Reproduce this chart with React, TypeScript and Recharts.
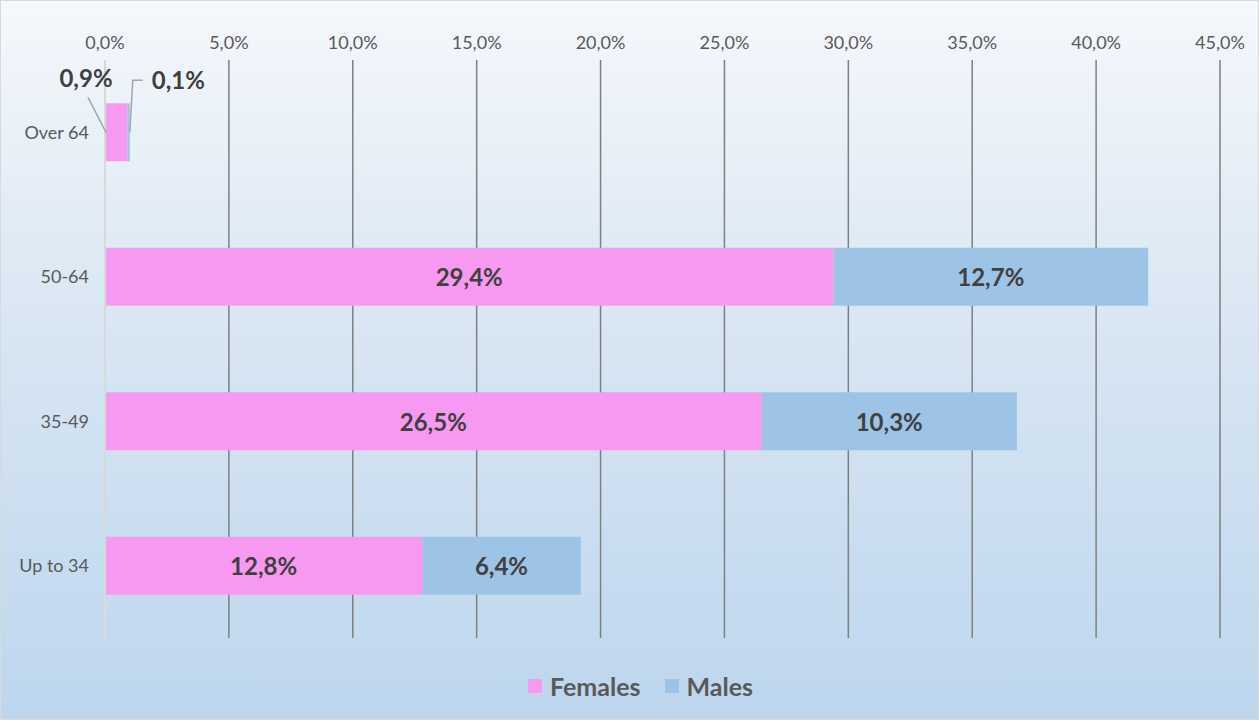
import React from 'react';
import { BarChart, Bar, XAxis, YAxis, CartesianGrid, LabelList } from 'recharts';

const ageGroups = ['Over 64', '50-64', '35-49', 'Up to 34'];
const females = [0.9, 29.4, 26.5, 12.8];
const males = [0.1, 12.7, 10.3, 6.4];
const xTicks = [0, 5, 10, 15, 20, 25, 30, 35, 40, 45];

const FEMALE = '#f799f0';
const MALE = '#9dc3e6';
const TEXT = '#595959';
const LABEL = '#404040';
const FONT = 'Lato, "Open Sans", sans-serif';

const data = ageGroups.map((group, i) => ({
  group,
  females: females[i],
  males: males[i],
}));

const fmt = (v: number) => v.toFixed(1).replace('.', ',') + '%';

// labels inside the bars; the tiny "Over 64" bar gets callouts instead
function insideLabel(side: 'f' | 'm') {
  return (props: any) => {
    const { x, y, width, height, value, index } = props;
    const text = fmt(Number(value));
    if (index === 0) {
      if (side === 'f') {
        return (
          <g>
            <polyline
              points={`${x + 1},${y + height / 2} ${x - 17},${y - 6}`}
              fill="none"
              stroke="#a6a6a6"
              strokeWidth={1.5}
            />
            <text x={x - 19} y={y - 16} textAnchor="middle" fill={LABEL} fontSize={24} fontWeight={700} fontFamily={FONT}>
              {text}
            </text>
          </g>
        );
      }
      const ex = x + width;
      return (
        <g>
          <polyline
            points={`${ex},${y + height / 2} ${ex + 3},${y - 23} ${ex + 13},${y - 23}`}
            fill="none"
            stroke="#a6a6a6"
            strokeWidth={1.5}
          />
          <text x={ex + 22} y={y - 14} fill={LABEL} fontSize={24} fontWeight={700} fontFamily={FONT}>
            {text}
          </text>
        </g>
      );
    }
    return (
      <text
        x={x + width / 2}
        y={y + height / 2}
        textAnchor="middle"
        dominantBaseline="central"
        fill={LABEL}
        fontSize={24}
        fontWeight={700}
        fontFamily={FONT}
      >
        {text}
      </text>
    );
  };
}

export default function App() {
  return (
    <div
      style={{
        position: 'absolute',
        left: 0,
        top: 0,
        width: 1257,
        height: 718,
        border: '1px solid #d9d9d9',
        background: 'linear-gradient(180deg, #f5f8fc 0%, #d9e6f3 45%, #bdd6ee 100%)',
        fontFamily: FONT,
      }}
    >
      <BarChart
        width={1257}
        height={718}
        data={data}
        layout="vertical"
        barCategoryGap="30%"
        margin={{ top: 29, right: 38, bottom: 81, left: 0 }}
      >
        <CartesianGrid horizontal={false} stroke="#7f7f7f" strokeWidth={1.5} />
        <XAxis
          type="number"
          orientation="top"
          domain={[0, 45]}
          ticks={xTicks}
          tickFormatter={fmt}
          axisLine={false}
          tickLine={false}
          tick={{ fill: TEXT, fontSize: 18, fontFamily: FONT, dy: -3 }}
          height={30}
        />
        <YAxis
          type="category"
          dataKey="group"
          width={104}
          axisLine={{ stroke: '#d9d9d9', strokeWidth: 2 }}
          tickLine={false}
          tickMargin={10}
          tick={{ fill: TEXT, fontSize: 18, fontFamily: FONT }}
        />
        <Bar dataKey="females" stackId="a" fill={FEMALE} isAnimationActive={false}>
          <LabelList dataKey="females" content={insideLabel('f')} />
        </Bar>
        <Bar dataKey="males" stackId="a" fill={MALE} isAnimationActive={false}>
          <LabelList dataKey="males" content={insideLabel('m')} />
        </Bar>
      </BarChart>
      <div
        style={{
          position: 'absolute',
          left: 11,
          width: 1257,
          top: 670,
          display: 'flex',
          justifyContent: 'center',
          alignItems: 'center',
          gap: 24,
          color: TEXT,
          fontSize: 25,
          fontWeight: 700,
        }}
      >
        {[
          { name: 'Females', color: FEMALE },
          { name: 'Males', color: MALE },
        ].map(item => (
          <div key={item.name} style={{ display: 'flex', alignItems: 'center', gap: 8 }}>
            <span style={{ width: 14, height: 14, background: item.color, display: 'inline-block' }} />
            <span>{item.name}</span>
          </div>
        ))}
      </div>
    </div>
  );
}
